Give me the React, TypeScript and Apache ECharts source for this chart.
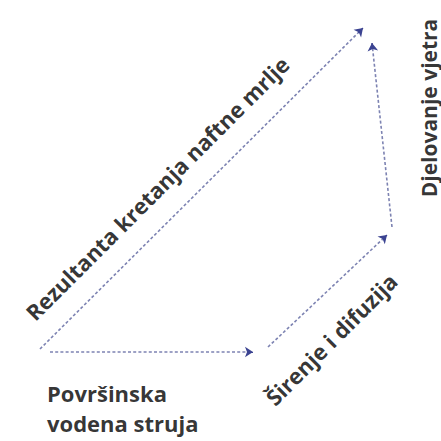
import React, { useEffect, useRef } from "react";
import * as echarts from "echarts";

// Vector diagram: each arrow is a displacement vector [start, end] in diagram units
const arrowNames = [
  "Površinska vodena struja",
  "Širenje i difuzija",
  "Djelovanje vjetra",
  "Rezultanta kretanja naftne mrlje",
];
const arrowStart = [
  [50, 352],
  [268, 347],
  [392, 227],
  [40, 349],
];
const arrowEnd = [
  [253, 352],
  [387, 235],
  [372, 43],
  [363, 28],
];
const labelTexts = [
  "Površinska\nvodena struja",
  "Širenje i difuzija",
  "Djelovanje vjetra",
  "Rezultanta kretanja naftne mrlje",
];

export default function App() {
  const ref = useRef<HTMLDivElement>(null);
  useEffect(() => {
    document.body.style.margin = "0";
    const chart = echarts.init(ref.current!, undefined, { renderer: "svg" });
    const labelAnchor = [
      [47, 408],
      [331, 339],
      [428.5, 108],
      [157, 188],
    ];
    const labelRotate = [0, 45, 90, 45];
    const font = "'Open Sans', 'Noto Sans', sans-serif";
    // short tail segment at each arrow's end, carrying the darker arrowhead
    const heads = arrowNames.map((n, i) => {
      const [x1, y1] = arrowStart[i];
      const [x2, y2] = arrowEnd[i];
      const t = 0.985;
      return {
        name: n,
        coords: [[x1 + (x2 - x1) * t, y1 + (y2 - y1) * t], arrowEnd[i]],
      };
    });
    chart.setOption({
      animation: false,
      backgroundColor: "#ffffff",
      grid: { left: 0, right: 0, top: 0, bottom: 0 },
      xAxis: { type: "value", min: 0, max: 441, show: false },
      yAxis: { type: "value", min: 0, max: 441, inverse: true, show: false },
      series: [
        {
          type: "lines",
          coordinateSystem: "cartesian2d",
          symbol: ["none", "none"],
          lineStyle: { color: "#7d83b2", width: 1.6, type: [3, 2.2], opacity: 1 },
          data: arrowNames.map((n, i) => ({
            name: n,
            coords: [arrowStart[i], arrowEnd[i]],
          })),
        },
        {
          type: "lines",
          coordinateSystem: "cartesian2d",
          symbol: ["none", "arrow"],
          symbolSize: 8,
          lineStyle: { color: "#3b4391", width: 1, opacity: 1 },
          data: heads,
        },
        {
          type: "scatter",
          symbolSize: 0,
          data: labelTexts.map((t, i) => ({
            name: t,
            value: labelAnchor[i],
            label: {
              show: true,
              formatter: t,
              rotate: labelRotate[i],
              position: i === 0 ? "right" : "inside",
              distance: 0,
              align: i === 0 ? "left" : "center",
              verticalAlign: "middle",
              color: "#000000",
              fontFamily: font,
              fontWeight: "bold",
              fontSize: i === 2 ? 21 : 22,
              lineHeight: 30,
            },
          })),
        },
      ],
    });
    return () => chart.dispose();
  }, []);
  return (
    <div
      ref={ref}
      style={{ width: 441, height: 441, position: "absolute", left: 0, top: 0 }}
    />
  );
}
